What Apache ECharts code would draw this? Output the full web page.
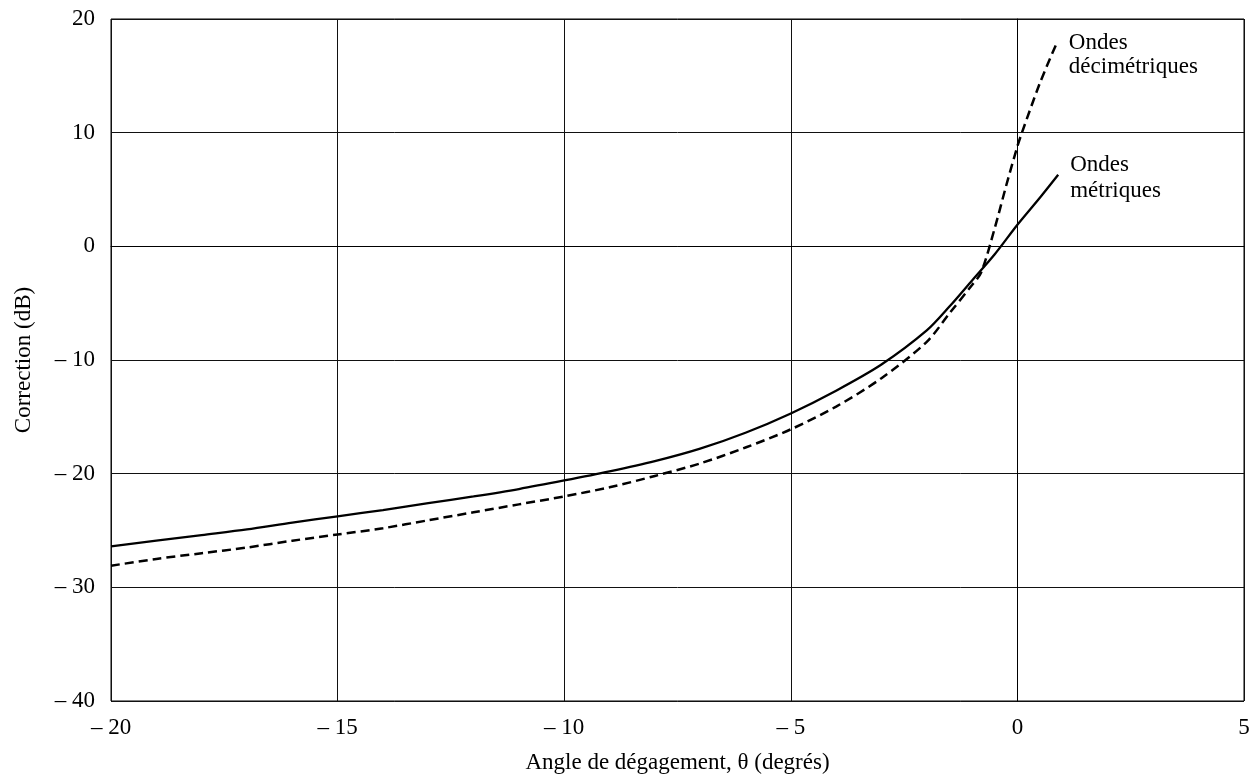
<!DOCTYPE html>
<html>
<head>
<meta charset="utf-8">
<script src="https://cdn.jsdelivr.net/npm/echarts@6/dist/echarts.min.js"></script>
<style>
  html, body { margin: 0; padding: 0; background: #fff; }
  #chart { width: 1254px; height: 782px; }
</style>
</head>
<body>
<div id="chart"></div>
<script>
// Clearance angle (degrees) and correction (dB) for the two bands
const metricAngles = [-20, -19, -18, -17, -16, -15, -14, -13, -12, -11, -10, -9, -8, -7, -6, -5, -4, -3, -2, -1.5, -1, -0.5, 0, 0.5, 0.9];
const metricCorrection = [-26.4, -25.9, -25.4, -24.9, -24.3, -23.75, -23.2, -22.6, -22.0, -21.35, -20.6, -19.8, -18.9, -17.8, -16.4, -14.7, -12.7, -10.4, -7.4, -5.3, -3.0, -0.7, 1.9, 4.3, 6.3];

const decimetricAngles = [-20, -19, -18, -17, -16, -15, -14, -13, -12, -11, -10, -9, -8, -7, -6, -5, -4, -3, -2, -1.5, -1, -0.8, -0.5, -0.25, 0, 0.1, 0.5, 0.87];
const decimetricCorrection = [-28.1, -27.5, -27.0, -26.5, -25.9, -25.35, -24.8, -24.1, -23.4, -22.7, -22.0, -21.2, -20.2, -19.1, -17.7, -16.1, -14.1, -11.6, -8.4, -5.9, -3.4, -2.3, 1.6, 5.3, 8.8, 10.0, 14.4, 17.9];

const metricName = 'Ondes\nmétriques';
const decimetricName = 'Ondes\ndécimétriques';
const xAxisTitle = 'Angle de dégagement, θ (degrés)';
const yAxisTitle = 'Correction (dB)';

const FONT = "'Liberation Serif', 'Times New Roman', serif";
const FS = 23;

function pairs(xs, ys) { return xs.map((x, i) => [x, ys[i]]); }
function tickText(v) { return v < 0 ? '\u2013 ' + Math.abs(v) : String(v); }

const chart = echarts.init(document.getElementById('chart'), null, { renderer: 'canvas' });
chart.setOption({
  backgroundColor: '#ffffff',
  animation: false,
  grid: { left: 111, right: 10, top: 19, bottom: 81, show: true, borderColor: '#000', borderWidth: 1 },
  xAxis: {
    type: 'value', min: -20, max: 5, interval: 5,
    name: xAxisTitle, nameLocation: 'middle', nameGap: 50,
    nameTextStyle: { fontFamily: FONT, fontSize: FS, color: '#000' },
    axisLine: { show: true, lineStyle: { color: '#000', width: 1 } },
    axisTick: { show: false },
    axisLabel: { formatter: tickText, fontFamily: FONT, fontSize: FS, color: '#000', margin: 15 },
    splitLine: { show: true, lineStyle: { color: '#111', width: 1 } }
  },
  yAxis: {
    type: 'value', min: -40, max: 20, interval: 10,
    name: yAxisTitle, nameLocation: 'middle', nameGap: 76, nameRotate: 90,
    nameTextStyle: { fontFamily: FONT, fontSize: FS, color: '#000' },
    axisLine: { show: true, lineStyle: { color: '#000', width: 1 } },
    axisTick: { show: false },
    axisLabel: { formatter: tickText, fontFamily: FONT, fontSize: FS, color: '#000', margin: 16 },
    splitLine: { show: true, lineStyle: { color: '#111', width: 1 } }
  },
  series: [
    {
      type: 'line', name: metricName,
      data: pairs(metricAngles, metricCorrection),
      smooth: 0.3, showSymbol: false,
      lineStyle: { color: '#000', width: 2.3, type: 'solid' },
      endLabel: {
        show: true, formatter: metricName, align: 'left', verticalAlign: 'middle',
        offset: [4, 3], fontFamily: FONT, fontSize: FS, lineHeight: 26, color: '#000'
      }
    },
    {
      type: 'line', name: decimetricName,
      data: pairs(decimetricAngles, decimetricCorrection),
      smooth: 0.3, showSymbol: false,
      lineStyle: { color: '#000', width: 2.5, type: [9, 5] },
      endLabel: {
        show: true, formatter: decimetricName, align: 'left', verticalAlign: 'middle',
        offset: [4, 12], fontFamily: FONT, fontSize: FS, lineHeight: 24, color: '#000'
      }
    }
  ]
});
</script>
</body>
</html>
